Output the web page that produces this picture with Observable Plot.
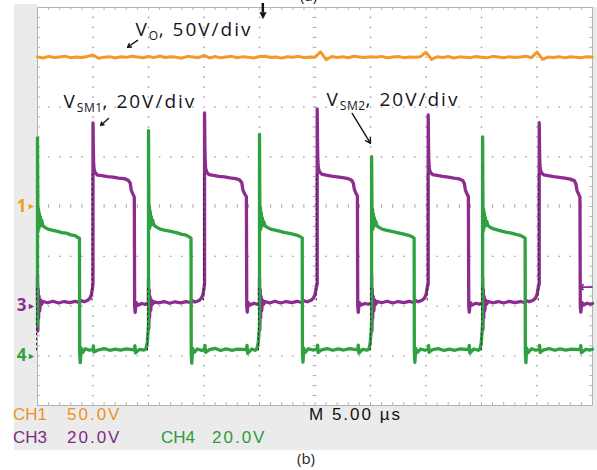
<!DOCTYPE html>
<html><head><meta charset="utf-8">
<script src="https://cdn.jsdelivr.net/npm/d3@7"></script>
<script src="https://cdn.jsdelivr.net/npm/@observablehq/plot@0.6"></script>
<style>
body{margin:0;background:#fff;width:597px;height:470px;overflow:hidden;position:relative;font-family:"Open Sans",sans-serif}
#bezel{position:absolute;left:14px;top:4px;width:583px;height:446px;background:#ebebeb}
#topcover{position:absolute;left:37px;top:0;width:560px;height:7px;background:#fff}
#chart{position:absolute;left:0;top:0}
.lbl{position:absolute;font-family:"Liberation Sans Narrow","Arial Narrow","Liberation Sans",sans-serif;font-size:17px;line-height:17px;white-space:pre}
.cap{position:absolute;font-family:"Open Sans",sans-serif;font-size:15px;line-height:15px;color:#222}
</style></head><body>
<div id="bezel"></div>
<div id="topcover"></div>
<div class="cap" style="left:300px;top:-12px">(a)</div>
<div id="chart"></div>
<div class="lbl" style="left:13px;top:406px;color:#ee921f">CH1</div>
<div class="lbl" style="left:67px;top:406px;color:#ee921f;letter-spacing:2px">50.0V</div>
<div class="lbl" style="left:309px;top:406px;color:#111;letter-spacing:2px">M 5.00 µs</div>
<div class="lbl" style="left:13px;top:429px;color:#7d2a84">CH3</div>
<div class="lbl" style="left:67px;top:429px;color:#7d2a84;letter-spacing:2px">20.0V</div>
<div class="lbl" style="left:161px;top:429px;color:#2b9a3a">CH4</div>
<div class="lbl" style="left:212px;top:429px;color:#2b9a3a;letter-spacing:2px">20.0V</div>
<div class="cap" style="left:297px;top:451px">(b)</div>
<script>
// ---- scope settings ----
const channelNames = ["CH1", "CH3", "CH4"];
const channelVoltsPerDiv = [50, 20, 20];
const channelGroundDiv = [0, -2, -3];
const channelColors = ["#f39a26", "#8b2c8e", "#2fa141"];
const channelMarks = ["1", "3", "4"];
const timePerDiv = 5;      // µs per division
const timeSpan = 50;       // µs on screen
const triggerTime = 20.3;  // µs
const triggerLevelV = 7.6; // V on CH3

// ---- CH1 (Vo) samples every 0.5 µs ----
const ch1Step = 0.5;
const ch1Volts = [
150.4,149.2,150.9,149.7,150.3,151.1,149.4,150.2,149.8,150.8,
152.2,149.0,150.1,150.6,149.3,150.5,149.9,151.0,150.2,149.5,
150.7,149.6,151.2,149.8,150.4,150.0,149.1,150.9,150.3,149.6,
151.8,149.3,150.7,149.4,150.2,150.9,149.5,150.6,150.0,149.3,
150.8,151.0,149.7,150.2,149.1,150.5,150.0,150.9,149.6,150.3,
150.1,155.5,147.5,150.7,149.8,150.4,149.5,151.0,150.2,149.7,
150.6,149.9,150.9,149.4,150.3,150.8,149.6,150.2,149.9,150.6,
155.0,147.8,150.5,149.7,150.8,149.3,150.4,150.1,149.6,150.7,
150.0,149.4,150.9,150.2,149.5,150.6,149.8,150.3,151.0,149.6,
155.2,148.0,150.2,149.7,150.6,149.4,150.5,150.0,149.5,150.4,
150.3];

// ---- CH3 (VSM1) [µs, V] ----
const ch3Points = [
[0,1.5],[0,12],[0.03,-10],[0.06,7],[0.1,-5],[0.14,4],[0.2,-2],[0.27,2.5],[0.36,0.6],[0.5,1.8],[0.9,1.3],[1.4,1.9],[1.9,1.2],[2.4,1.8],[2.9,1.4],[3.4,1.9],[3.8,1.3],[3.85,2.3],[4.2,1.7],[4.5,2.2],[4.7,3.0],[4.85,4.5],[4.95,7],[5.0,9],
[5.0,73.6],[5.03,63],[5.06,57],[5.1,55],[5.2,53.6],[5.4,52.6],[5.8,52.4],[6.3,52],[6.8,51.8],[7.3,51.4],[7.8,51.2],[8.15,50.6],[8.35,49.5],[8.45,46.5],[8.6,45],[8.72,43.8],[8.75,0],[8.8,-2.6],[8.88,1.5],[9.05,0.3],[9.4,1.0],[9.7,0.6],[9.95,1.2],
[10,1.2],[10,11],[10.03,-9],[10.06,6.5],[10.1,-4.5],[10.14,3.8],[10.2,-1.8],[10.27,2.4],[10.36,0.7],[10.5,1.7],[10.9,1.3],[11.4,1.8],[11.9,1.1],[12.4,1.7],[12.9,1.3],[13.4,1.8],[13.85,1.2],[13.9,2.2],[14.2,1.6],[14.55,2.2],[14.75,3.0],[14.9,4.5],[15.0,7],[15.05,9],
[15.05,77.6],[15.08,64],[15.11,57.5],[15.15,55.3],[15.25,53.8],[15.45,52.8],[15.85,52.5],[16.35,52.1],[16.85,51.9],[17.35,51.5],[17.85,51.2],[18.2,50.7],[18.4,49.6],[18.5,46.8],[18.65,45.2],[18.82,44],[18.85,0],[18.9,-2.5],[18.98,1.4],[19.15,0.4],[19.5,1.1],[19.8,0.7],[19.97,1.2],
[20,1.2],[20,11.5],[20.03,-9.5],[20.06,6.8],[20.1,-4.8],[20.14,3.9],[20.2,-1.9],[20.27,2.4],[20.36,0.6],[20.5,1.8],[20.9,1.2],[21.4,1.9],[21.9,1.2],[22.4,1.8],[22.9,1.4],[23.4,1.9],[23.87,1.3],[23.92,2.2],[24.3,1.7],[24.65,2.3],[24.85,3.1],[25.0,4.5],[25.1,7],[25.2,9],
[25.2,79.2],[25.23,64.5],[25.26,58],[25.3,55.5],[25.4,54],[25.6,53],[26.0,52.6],[26.5,52.2],[27.0,51.9],[27.5,51.6],[28.0,51.2],[28.3,50.6],[28.45,49.4],[28.55,46.8],[28.7,45.2],[28.82,44.2],[28.85,0],[28.9,-2.6],[28.98,1.5],[29.15,0.4],[29.5,1.0],[29.8,0.7],[30.07,1.2],
[30.1,1.2],[30.1,12],[30.13,-10],[30.16,7],[30.2,-5],[30.24,4],[30.3,-2],[30.37,2.5],[30.46,0.6],[30.6,1.8],[31.0,1.3],[31.5,1.9],[32.0,1.2],[32.5,1.8],[33.0,1.4],[33.5,1.9],[33.95,1.3],[34.0,2.3],[34.3,1.7],[34.65,2.3],[34.85,3.1],[35.0,4.5],[35.1,7],[35.2,9],
[35.2,76.8],[35.23,63.5],[35.26,57.5],[35.3,55.2],[35.4,53.7],[35.6,52.8],[36.0,52.5],[36.5,52.1],[37.0,51.8],[37.5,51.4],[38.0,51.1],[38.3,50.5],[38.45,49.3],[38.55,46.6],[38.7,45],[38.82,43.9],[38.85,0],[38.9,-2.5],[38.98,1.4],[39.15,0.4],[39.5,1.1],[39.8,0.7],[40.07,1.2],
[40.1,1.2],[40.1,11.5],[40.13,-9.5],[40.16,6.8],[40.2,-4.8],[40.24,3.9],[40.3,-1.9],[40.37,2.4],[40.46,0.7],[40.6,1.8],[41.0,1.3],[41.5,1.8],[42.0,1.2],[42.5,1.9],[43.0,1.4],[43.5,1.8],[43.95,1.3],[44.0,2.2],[44.3,1.7],[44.65,2.3],[44.85,3.1],[45.0,4.5],[45.1,7],[45.2,9],
[45.2,73.7],[45.23,63],[45.26,57],[45.3,55],[45.4,53.6],[45.6,52.7],[46.0,52.4],[46.5,52],[47.0,51.7],[47.5,51.4],[48.0,51.0],[48.35,50.4],[48.5,49.2],[48.6,46.5],[48.75,45],[48.87,43.8],[48.9,0],[48.95,-2.5],[49.03,1.5],[49.2,0.4],[49.5,1.1],[49.8,0.7],[50,1.0]];

// ---- CH4 (VSM2) [µs, V] ----
const ch4Points = [
[0,12],[0,87.6],[0.03,61],[0.06,50],[0.09,59],[0.12,51],[0.16,57.5],[0.2,52],[0.25,56],[0.31,52.5],[0.38,54.5],[0.48,52.2],[0.7,51.5],[1.0,50.8],[1.4,50.4],[1.8,50],[2.2,49.5],[2.6,49.3],[3.0,48.6],[3.4,48.3],[3.6,47.6],[3.78,47.2],[3.8,1],[3.85,-2.8],[3.92,3.2],[4.05,1.2],[4.3,2.8],[4.7,2.2],[5.0,2.6],[5.04,4],[5.08,1.5],[5.5,2.4],[6.0,2.9],[6.5,2.2],[7.0,2.7],[7.5,2.3],[8.0,2.8],[8.7,2.4],[8.78,4],[8.83,1.2],[9.2,2.6],[9.6,2.3],[9.75,2.6],[9.88,5],[9.97,10],[10,13],
[10,90.5],[10.03,62],[10.06,51],[10.09,60],[10.12,51.5],[10.16,58],[10.2,52.5],[10.25,56],[10.31,53],[10.38,54.5],[10.48,52.5],[10.7,51.8],[11.0,51],[11.4,50.5],[11.8,50.2],[12.2,49.8],[12.6,49.4],[13.0,48.8],[13.4,48.5],[13.65,47.8],[13.83,47.3],[13.85,1],[13.9,-3],[13.97,3],[14.1,1.3],[14.4,2.7],[14.8,2.1],[15.05,2.6],[15.09,4.2],[15.13,1.4],[15.5,2.5],[16.0,3],[16.5,2.1],[17.0,2.8],[17.5,2.2],[18.0,2.7],[18.8,2.5],[18.88,4.2],[18.93,1],[19.3,2.7],[19.6,2.2],[19.75,2.6],[19.88,5],[19.97,10],[20,13],
[20,89],[20.03,61],[20.06,50.5],[20.09,59.5],[20.12,51],[20.16,57.5],[20.2,52],[20.25,55.5],[20.31,52.5],[20.38,54],[20.48,52.3],[20.7,51.6],[21.0,50.9],[21.4,50.5],[21.8,50.1],[22.2,49.6],[22.6,49.3],[23.0,48.9],[23.4,48.4],[23.65,47.9],[23.85,47.4],[23.87,1],[23.92,-2.6],[23.99,3.1],[24.1,1.2],[24.4,2.8],[24.8,2.3],[25.2,2.7],[25.24,4.3],[25.28,1.3],[25.6,2.4],[26.1,2.9],[26.6,2.2],[27.1,2.8],[27.6,2.3],[28.1,2.9],[28.85,2.4],[28.9,4.3],[28.95,1.1],[29.3,2.6],[29.7,2.3],[29.85,2.6],[29.97,5],[30.06,10],[30.1,13],
[30.1,80],[30.13,61],[30.16,50.5],[30.19,59],[30.22,51],[30.26,57],[30.3,52],[30.35,55.5],[30.41,52.5],[30.48,54],[30.58,52.2],[30.8,51.5],[31.1,50.8],[31.5,50.4],[31.9,50],[32.3,49.6],[32.7,49.2],[33.1,48.8],[33.5,48.3],[33.75,47.8],[33.93,47.3],[33.95,1],[34.0,-2.7],[34.07,3],[34.2,1.3],[34.5,2.7],[34.9,2.2],[35.2,2.6],[35.24,4.1],[35.28,1.4],[35.6,2.5],[36.1,2.9],[36.6,2.1],[37.1,2.7],[37.6,2.2],[38.1,2.8],[38.85,2.5],[38.9,4.2],[38.95,1.1],[39.3,2.7],[39.7,2.2],[39.85,2.6],[39.97,5],[40.06,10],[40.1,13],
[40.1,88],[40.13,61],[40.16,50],[40.19,59],[40.22,51],[40.26,57.5],[40.3,52],[40.35,55.5],[40.41,52.5],[40.48,54],[40.58,52.3],[40.8,51.6],[41.1,51],[41.5,50.5],[41.9,50],[42.3,49.6],[42.7,49.3],[43.1,48.8],[43.5,48.4],[43.75,47.8],[43.93,47.3],[43.95,1],[44.0,-2.8],[44.07,3.1],[44.2,1.2],[44.5,2.8],[44.9,2.2],[45.2,2.6],[45.24,4.2],[45.28,1.3],[45.6,2.4],[46.1,2.9],[46.6,2.2],[47.1,2.8],[47.6,2.3],[48.1,2.7],[48.9,2.5],[48.95,4.1],[49.0,1.2],[49.4,2.6],[49.8,2.3],[50,2.6]];

const ch3RiseTimes = [5.0, 15.05, 25.2, 35.2, 45.2];
const ch4RiseTimes = [0, 10, 20, 30.1, 40.1];

// ---- annotations (µs, div) ----
const noteTexts = ["V_O_, 50V/div", "V_SM1_, 20V/div", "V_SM2_, 20V/div"];
const noteT = [8.83, 2.34, 26.04];
const noteDiv = [3.54, 2.11, 2.15];
const arrowFrom = [[9.01, 3.34], [6.40, 1.77], [28.35, 1.87]];
const arrowTo = [[8.11, 3.20], [5.68, 1.63], [30.0, 1.27]];

// ---- build ----
const toDiv = (c, v) => channelGroundDiv[c] + v / channelVoltsPerDiv[c];
const ch1Rows = ch1Volts.map((v, i) => ({t: i * ch1Step, div: toDiv(0, v)}));
const ch3Rows = ch3Points.map(([t, v]) => ({t, div: toDiv(1, v)}));
const ch4Rows = ch4Points.map(([t, v]) => ({t, div: toDiv(2, v)}));

const divs = timeSpan / timePerDiv;
const minorX = d3.range(0, timeSpan + 0.001, timePerDiv / 5);
const minorY = d3.range(-4, 4.001, 0.2).map(v => Math.round(v * 10) / 10);
const majorX = d3.range(1, divs).map(i => i * timePerDiv);
const majorY = [-3, -2, -1, 1, 2, 3];
const gridDots = [];
for (const x of majorX) if (x !== timeSpan / 2) for (const y of minorY) if (Math.abs(y) < 4 && !Number.isInteger(y)) gridDots.push({x, y});
for (const y of majorY) for (const x of minorX) if (x > 0 && x < timeSpan) gridDots.push({x, y});
const cx = timeSpan / 2;

const chart = Plot.plot({
  width: 597, height: 470,
  marginLeft: 37, marginRight: 5, marginTop: 7, marginBottom: 65,
  x: {domain: [0, timeSpan], axis: null},
  y: {domain: [-4, 4], axis: null},
  color: {type: "identity"},
  style: {background: "transparent", overflow: "visible"},
  marks: [
    Plot.frame({fill: "white", stroke: "#b4b4b4"}),
    Plot.dot(gridDots, {x: "x", y: "y", r: 0.85, fill: "#a3a3a3", stroke: null}),
    Plot.ruleY(minorY.filter(y => Math.abs(y) < 4), {y: d => d, x1: cx - 0.16, x2: cx + 0.16, stroke: "#a3a3a3"}),
    Plot.ruleX(minorX.filter(x => x > 0 && x < timeSpan), {x: d => d, y1: -0.035, y2: 0.035, stroke: "#a3a3a3"}),
    Plot.ruleX(minorX, {x: d => d, y1: 4, y2: 3.94, stroke: "#b4b4b4"}),
    Plot.ruleX(minorX, {x: d => d, y1: -4, y2: -3.94, stroke: "#b4b4b4"}),
    Plot.ruleY(minorY, {y: d => d, x1: 0, x2: 0.27, stroke: "#b4b4b4"}),
    Plot.ruleY(minorY, {y: d => d, x1: timeSpan, x2: timeSpan - 0.27, stroke: "#b4b4b4"}),
    Plot.line(ch1Rows, {x: "t", y: "div", stroke: channelColors[0], strokeWidth: 3}),
    Plot.line(ch3Rows, {x: "t", y: "div", stroke: channelColors[1], strokeWidth: 3.3, strokeLinejoin: "round"}),
    Plot.ruleX(ch3RiseTimes, {x: d => d, y1: toDiv(1, 2), y2: toDiv(1, 53), stroke: "#2a2a2a", strokeWidth: 1, strokeDasharray: "2.5,2.5", dx: -1}),
    Plot.line(ch4Rows, {x: "t", y: "div", stroke: channelColors[2], strokeWidth: 3.3, strokeLinejoin: "round"}),
    Plot.ruleX(ch4RiseTimes, {x: d => d, y1: toDiv(2, 2), y2: toDiv(2, 28), stroke: "#2a2a2a", strokeWidth: 1, strokeDasharray: "2.5,2.5", dx: -1}),
    // channel ground markers
    Plot.text([0, 1, 2], {x: () => 0, y: i => channelGroundDiv[i], text: i => channelMarks[i], fill: i => channelColors[i], dx: -16, fontSize: 17, fontWeight: "bold", textAnchor: "middle"}),
    Plot.text([0, 1, 2], {x: () => 0, y: i => channelGroundDiv[i], text: () => "►", fill: i => channelColors[i], dx: -6, fontSize: 9, textAnchor: "middle"}),
    // trigger markers
    Plot.ruleX([triggerTime], {x: d => d, y1: 4.08, y2: 3.9, stroke: "#111", strokeWidth: 2.5}),
    Plot.text([triggerTime], {x: d => d, y: 4, text: () => "▼", dy: 8, fontSize: 12, fill: "#111"}),
    Plot.arrow([triggerLevelV], {x1: () => timeSpan - 0.05, x2: () => timeSpan - 1.15, y1: v => toDiv(1, v), y2: v => toDiv(1, v), stroke: channelColors[1], strokeWidth: 1.8, headLength: 8, headAngle: 70}),
    // annotations
    Plot.text(noteTexts, {x: (d, i) => noteT[i], y: (d, i) => noteDiv[i], text: d => d, textAnchor: "start", fontSize: 19, fill: "#15151f", fontFamily: "Open Sans"}),
    Plot.arrow(arrowFrom, {x1: (d) => d[0], y1: d => d[1], x2: (d, i) => arrowTo[i][0], y2: (d, i) => arrowTo[i][1], stroke: "#15151f", strokeWidth: 1.4, headLength: 6})
  ]
});

// subscripts in annotation texts
const ns = "http://www.w3.org/2000/svg";
chart.querySelectorAll("text").forEach(el => {
  const s = el.textContent;
  if (!s.includes("_")) return;
  const [main, sub, rest] = s.split("_");
  el.textContent = "";
  el.setAttribute("letter-spacing", "2");
  const a = document.createElementNS(ns, "tspan"); a.textContent = main;
  const b = document.createElementNS(ns, "tspan"); b.textContent = sub; b.setAttribute("font-size", "12"); b.setAttribute("dy", "4"); b.setAttribute("letter-spacing", "0.5");
  const c = document.createElementNS(ns, "tspan"); c.textContent = rest; c.setAttribute("dy", "-4");
  el.append(a, b, c);
});
document.getElementById("chart").append(chart);
</script>
</body></html>
